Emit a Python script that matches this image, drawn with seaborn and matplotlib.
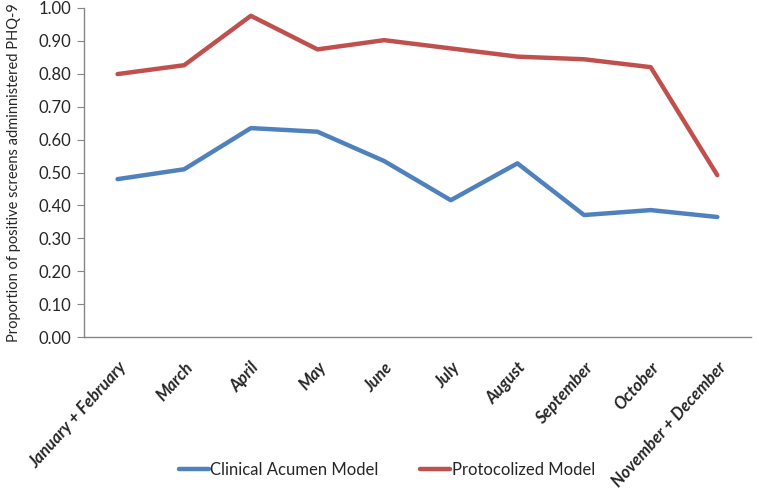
import numpy as np
import pandas as pd
import seaborn as sns
import matplotlib.pyplot as plt
from matplotlib.ticker import FixedLocator

months = ["January + February", "March", "April", "May", "June", "July",
          "August", "September", "October", "November + December"]
clinical = [0.48, 0.51, 0.635, 0.624, 0.535, 0.416, 0.528, 0.371, 0.386, 0.365]
protocol = [0.799, 0.826, 0.976, 0.874, 0.902, 0.877, 0.852, 0.844, 0.820, 0.492]

df = pd.DataFrame({
    "pos": list(range(len(months))) * 2,
    "value": clinical + protocol,
    "model": ["Clinical Acumen Model"] * len(months) + ["Protocolized Model"] * len(months),
})

sns.set_style("white")
plt.rcParams['font.family'] = ['Lato', 'DejaVu Sans']

fig = plt.figure(figsize=(7.59, 4.93), dpi=100)
ax = fig.add_axes([0.111, 0.316, 0.878, 0.668])

sns.lineplot(data=df, x="pos", y="value", hue="model",
             palette=["#4F81BD", "#C0504D"], linewidth=3.2, ax=ax, legend=False)

ax.set_xlim(-0.5, len(months) - 0.5)
ax.set_ylim(0, 1.0)
ax.set_yticks(np.arange(0, 1.01, 0.1))
ax.set_yticklabels(["%.2f" % v for v in np.arange(0, 1.01, 0.1)], fontsize=12)
ax.set_xticks(range(len(months)))
ax.set_xticklabels(months, rotation=48, ha="right", rotation_mode="anchor",
                   fontsize=12, fontweight="bold", fontstyle="italic")
ax.xaxis.set_minor_locator(FixedLocator(np.arange(-0.5, len(months), 1.0)))
ax.tick_params(axis="x", which="major", length=0, pad=16)
ax.tick_params(axis="x", which="minor", length=5, color="#868686", direction="out")
ax.tick_params(axis="y", length=5, color="#868686", direction="out", left=True, pad=4)
ax.set_xlabel("")
ax.set_ylabel("Proportion of positive screens adminnistered PHQ-9", fontsize=10.5)
ax.yaxis.set_label_coords(-0.095, 0.5)

for side in ["top", "right"]:
    ax.spines[side].set_visible(False)
for side in ["left", "bottom"]:
    ax.spines[side].set_color("#868686")
    ax.spines[side].set_linewidth(1)

handles = [plt.Line2D([], [], color="#4F81BD", lw=3.2),
           plt.Line2D([], [], color="#C0504D", lw=3.2)]
fig.legend(handles, ["Clinical Acumen Model", "Protocolized Model"],
           loc="lower center", bbox_to_anchor=(0.51, 0.0), ncol=2, frameon=False,
           fontsize=12, handlelength=1.8, handletextpad=0.1, columnspacing=2.5)

fig.savefig("out.png", dpi=100)
